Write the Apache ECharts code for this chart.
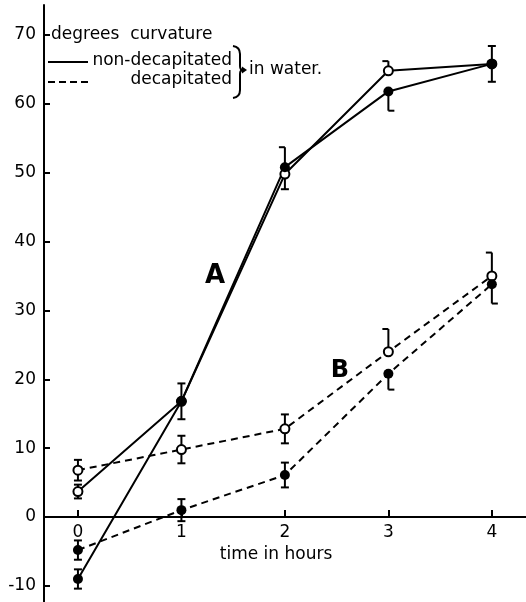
<!DOCTYPE html>
<html>
<head>
<meta charset="utf-8">
<script src="https://cdn.jsdelivr.net/npm/echarts@6/dist/echarts.min.js"></script>
<style>
html,body{margin:0;padding:0;background:#fff;}
#chart{width:526px;height:602px;}
</style>
</head>
<body>
<div id="chart"></div>
<script>
// ---- data ----
const hours = [0, 1, 2, 3, 4];
const xTicks = [0, 1, 2, 3, 4];
const yTicks = [-10, 0, 10, 20, 30, 40, 50, 60, 70];

// A: non-decapitated (solid)
const solidOpen   = [3.7, 16.8, 49.8, 64.8, 65.8];
const solidFilled = [-9.0, 16.8, 50.8, 61.8, 65.8];
// B: decapitated (dashed)
const dashedOpen   = [6.8, 9.8, 12.8, 24.0, 35.0];
const dashedFilled = [-4.8, 1.0, 6.1, 20.8, 33.8];

// error bars: [minus, plus]; null = not drawn
const solidOpenErr   = [[1.0, 1.0], [2.6, 2.6], [2.2, null], [null, 1.4], [2.6, 2.6]];
const solidFilledErr = [[1.4, 1.4], null, [null, 2.9], [2.8, null], null];
const dashedOpenErr  = [[1.5, 1.5], [2.0, 2.0], [2.1, 2.1], [null, 3.3], [null, 3.4]];
const dashedFilledErr= [[1.4, 1.4], [1.6, 1.6], [1.8, 1.8], [2.3, null], [2.8, null]];

const FONT = 'DejaVu Sans';
const Y_MIN = -12.34, Y_MAX = 74.35;
const GRID_TOP = 5, GRID_BOTTOM = 0, CH = 602;
const gridH = CH - GRID_TOP - GRID_BOTTOM;
// place x axis line at value 0 (labels follow it)
const xOffset = -gridH * (0 - Y_MIN) / (Y_MAX - Y_MIN);

function pairs(vals) { return hours.map((h, i) => [h, vals[i]]); }
function errData(vals, errs) {
  const out = [];
  hours.forEach((h, i) => {
    const e = errs[i];
    if (e) out.push([h, vals[i], e[0] == null ? 0 : e[0], e[1] == null ? 0 : e[1]]);
  });
  return out;
}
const allErr = []
  .concat(errData(solidOpen, solidOpenErr))
  .concat(errData(solidFilled, solidFilledErr))
  .concat(errData(dashedOpen, dashedOpenErr))
  .concat(errData(dashedFilled, dashedFilledErr));

function renderErr(params, api) {
  const x = api.value(0), y = api.value(1), lo = api.value(2), hi = api.value(3);
  const c = api.coord([x, y]);
  const children = [];
  const st = { stroke: '#000', lineWidth: 2 };
  if (hi > 0) {
    const t = api.coord([x, y + hi]);
    children.push({ type: 'line', shape: { x1: c[0], y1: c[1], x2: t[0], y2: t[1] }, style: st });
    const x1 = lo > 0 ? t[0] - 4 : t[0] - 6, x2 = lo > 0 ? t[0] + 4 : t[0];
    children.push({ type: 'line', shape: { x1: x1, y1: t[1], x2: x2, y2: t[1] }, style: st });
  }
  if (lo > 0) {
    const b = api.coord([x, y - lo]);
    children.push({ type: 'line', shape: { x1: c[0], y1: c[1], x2: b[0], y2: b[1] }, style: st });
    const sym = hi > 0 || x < 3;
    children.push({ type: 'line', shape: { x1: sym ? b[0] - 4 : b[0], y1: b[1], x2: sym ? b[0] + 4 : b[0] + 6, y2: b[1] }, style: st });
  }
  return { type: 'group', children: children };
}

const chart = echarts.init(document.getElementById('chart'), null, { renderer: 'canvas' });

function lineSeries(name, vals, dashed, filled) {
  return {
    name: name,
    type: 'line',
    data: pairs(vals),
    symbol: 'circle',
    symbolSize: filled ? 10 : 9,
    z: 3,
    lineStyle: { color: '#000', width: 2, type: dashed ? [7, 5] : 'solid' },
    itemStyle: { color: filled ? '#000' : '#fff', borderColor: '#000', borderWidth: filled ? 0 : 2 },
    emphasis: { disabled: true },
    silent: true
  };
}

const txt = '17px "DejaVu Sans"';
const option = {
  animation: false,
  backgroundColor: '#fff',
  grid: { left: 44, right: 0, top: GRID_TOP, bottom: GRID_BOTTOM, containLabel: false, outerBoundsMode: 'none' },
  xAxis: {
    type: 'value',
    min: -0.328,
    max: 4.33,
    position: 'bottom',
    offset: xOffset,
    axisLine: { show: true, onZero: false, lineStyle: { color: '#000', width: 2 } },
    axisTick: { show: true, inside: true, length: 7, customValues: xTicks, lineStyle: { color: '#000', width: 2 } },
    axisLabel: { show: true, customValues: xTicks, margin: 7, color: '#000', fontFamily: FONT, fontSize: 17 },
    splitLine: { show: false },
    name: 'time in hours',
    nameLocation: 'middle',
    nameGap: 27,
    nameTextStyle: { color: '#000', fontFamily: FONT, fontSize: 17, padding: [0, 18, 0, 0] }
  },
  yAxis: {
    type: 'value',
    min: Y_MIN,
    max: Y_MAX,
    axisLine: { show: true, onZero: false, lineStyle: { color: '#000', width: 2 } },
    axisTick: { show: true, inside: true, length: 6, customValues: yTicks, lineStyle: { color: '#000', width: 2 } },
    axisLabel: { show: true, customValues: yTicks, margin: 8, color: '#000', fontFamily: FONT, fontSize: 17 },
    splitLine: { show: false }
  },
  series: [
    {
      type: 'custom',
      renderItem: renderErr,
      data: allErr,
      z: 1,
      silent: true,
      encode: { x: 0, y: 1 }
    },
    lineSeries('non-decapitated open', solidOpen, false, false),
    lineSeries('non-decapitated filled', solidFilled, false, true),
    lineSeries('decapitated open', dashedOpen, true, false),
    lineSeries('decapitated filled', dashedFilled, true, true)
  ],
  graphic: [
    { type: 'text', x: 51, y: 35, style: { text: 'degrees  curvature', fill: '#000', font: txt, verticalAlign: 'middle' } },
    { type: 'line', shape: { x1: 48, y1: 62, x2: 88, y2: 62 }, style: { stroke: '#000', lineWidth: 2 } },
    { type: 'text', x: 232, y: 61, style: { text: 'non-decapitated', fill: '#000', font: txt, align: 'right', verticalAlign: 'middle' } },
    { type: 'line', shape: { x1: 48, y1: 82, x2: 88, y2: 82 }, style: { stroke: '#000', lineWidth: 2, lineDash: [7, 4] } },
    { type: 'text', x: 232, y: 80, style: { text: 'decapitated', fill: '#000', font: txt, align: 'right', verticalAlign: 'middle' } },
    { type: 'bezierCurve', shape: { x1: 233, y1: 46, x2: 240, y2: 54, cpx1: 240, cpy1: 47 }, style: { stroke: '#000', fill: null, lineWidth: 2 } },
    { type: 'line', shape: { x1: 240, y1: 54, x2: 240, y2: 66 }, style: { stroke: '#000', lineWidth: 2 } },
    { type: 'bezierCurve', shape: { x1: 240, y1: 66, x2: 243, y2: 70, cpx1: 240, cpy1: 70 }, style: { stroke: '#000', fill: null, lineWidth: 2 } },
    { type: 'bezierCurve', shape: { x1: 243, y1: 70, x2: 240, y2: 74, cpx1: 240, cpy1: 70 }, style: { stroke: '#000', fill: null, lineWidth: 2 } },
    { type: 'line', shape: { x1: 240, y1: 74, x2: 240, y2: 90 }, style: { stroke: '#000', lineWidth: 2 } },
    { type: 'bezierCurve', shape: { x1: 240, y1: 90, x2: 233, y2: 98, cpx1: 240, cpy1: 97 }, style: { stroke: '#000', fill: null, lineWidth: 2 } },
    { type: 'polygon', shape: { points: [[242, 66.5], [247, 70], [242, 73.5]] }, style: { fill: '#000' } },
    { type: 'text', x: 249, y: 70, style: { text: 'in water.', fill: '#000', font: txt, verticalAlign: 'middle' } },
    { type: 'text', x: 215, y: 276, style: { text: 'A', fill: '#000', font: 'bold 26px "DejaVu Sans"', align: 'center', verticalAlign: 'middle' } },
    { type: 'text', x: 340, y: 371, style: { text: 'B', fill: '#000', font: 'bold 24px "DejaVu Sans"', align: 'center', verticalAlign: 'middle' } }
  ]
};
chart.setOption(option);
</script>
</body>
</html>
